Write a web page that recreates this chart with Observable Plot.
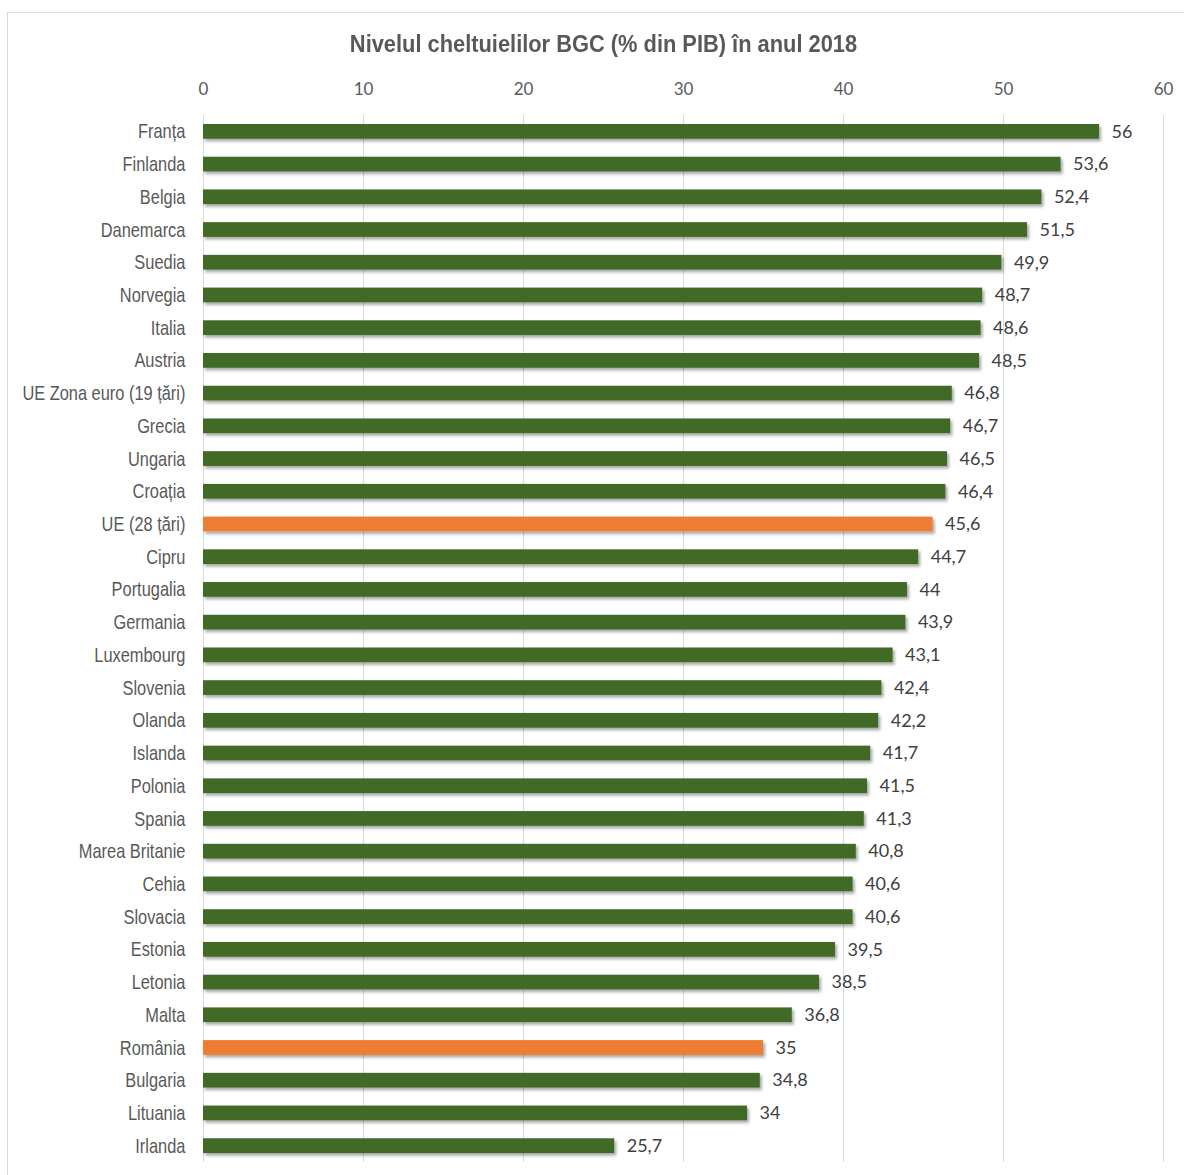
<!DOCTYPE html>
<html>
<head>
<meta charset="utf-8">
<script src="https://cdn.jsdelivr.net/npm/d3@7"></script>
<script src="https://cdn.jsdelivr.net/npm/@observablehq/plot@0.6"></script>
<style>
  html, body { margin: 0; padding: 0; background: #fff; }
  #wrap { position: relative; width: 1184px; height: 1175px; overflow: hidden; }
  #frame { position: absolute; left: 7px; top: 12px; width: 1190px; height: 1200px;
           border: 1px solid #d9d9d9; box-sizing: border-box; }
  #title { position: absolute; left: 0; top: 30px; width: 1207px; text-align: center;
           font-family: "Liberation Sans", Arial, sans-serif; font-weight: bold;
           font-size: 24px; color: #595959; line-height: 28px;
           transform: scaleX(0.91); transform-origin: 603.5px 50%; }
  #chart { position: absolute; left: 0; top: 60px; }
</style>
</head>
<body>
<div id="wrap">
  <div id="frame"></div>
  <div id="title">Nivelul cheltuielilor BGC (% din PIB) în anul 2018</div>
  <div id="chart"></div>
</div>
<script>
// Government expenditure as % of GDP, 2018
const countries = [
  "Franța", "Finlanda", "Belgia", "Danemarca", "Suedia", "Norvegia", "Italia", "Austria",
  "UE Zona euro (19 țări)", "Grecia", "Ungaria", "Croația", "UE (28 țări)", "Cipru",
  "Portugalia", "Germania", "Luxembourg", "Slovenia", "Olanda", "Islanda", "Polonia",
  "Spania", "Marea Britanie", "Cehia", "Slovacia", "Estonia", "Letonia", "Malta",
  "România", "Bulgaria", "Lituania", "Irlanda"
];
const values = [
  56, 53.6, 52.4, 51.5, 49.9, 48.7, 48.6, 48.5,
  46.8, 46.7, 46.5, 46.4, 45.6, 44.7,
  44, 43.9, 43.1, 42.4, 42.2, 41.7, 41.5,
  41.3, 40.8, 40.6, 40.6, 39.5, 38.5, 36.8,
  35, 34.8, 34, 25.7
];
const highlighted = ["UE (28 țări)", "România"];
const xTicks = [0, 10, 20, 30, 40, 50, 60];

const data = countries.map((c, i) => ({country: c, value: values[i], hi: highlighted.includes(c)}));
const fmt = v => String(v).replace(".", ",");

const sans = "'Liberation Sans', Arial, sans-serif";
const numFont = "Lato, 'Open Sans', sans-serif";

const chart = Plot.plot({
  width: 1184,
  height: 1115,
  marginTop: 55,
  marginBottom: 13,
  marginLeft: 203,
  marginRight: 21,
  style: {background: "transparent", overflow: "visible"},
  x: {domain: [0, 60], ticks: xTicks, axis: null},
  y: {domain: countries, paddingInner: 0.55, paddingOuter: 0.275, round: false, axis: null},
  marks: [
    Plot.ruleX(xTicks, {stroke: "#d9d9d9", strokeWidth: 1}),
    Plot.axisX({anchor: "top", ticks: xTicks, tickSize: 0, tickPadding: 21,
      fontSize: 17, fill: "#595959", fontFamily: numFont, label: null}),
    Plot.barX(data, {x: "value", y: "country",
      fill: d => d.hi ? "#ed7d31" : "#3f6a26", className: "bars"}),
    Plot.text(data, {x: "value", y: "country", text: d => fmt(d.value),
      dx: 12, textAnchor: "start", fontSize: 18, fill: "#404040", fontFamily: numFont}),
    Plot.text(data, {x: 0, y: "country", text: "country", dx: -18, textAnchor: "end",
      fontSize: 20.5, fill: "#595959", fontFamily: sans, className: "names"})
  ]
});

// soft drop shadow under the bars
const ns = "http://www.w3.org/2000/svg";
const defs = document.createElementNS(ns, "defs");
defs.innerHTML = `<filter id="barShadow" x="-5%" y="-50%" width="110%" height="220%">
  <feDropShadow dx="2" dy="2.5" stdDeviation="1.6" flood-color="#000" flood-opacity="0.35"/>
</filter>`;
chart.insertBefore(defs, chart.firstChild);
chart.querySelectorAll("g.bars").forEach(g => g.setAttribute("filter", "url(#barShadow)"));

// narrow the category labels, keeping their right edge fixed
chart.querySelectorAll("g.names").forEach(g => {
  const outer = document.createElementNS(ns, "g");
  outer.setAttribute("transform", "translate(185,0) scale(0.8,1) translate(-185,0)");
  g.parentNode.insertBefore(outer, g);
  outer.appendChild(g);
});

document.getElementById("chart").append(chart);
</script>
</body>
</html>
